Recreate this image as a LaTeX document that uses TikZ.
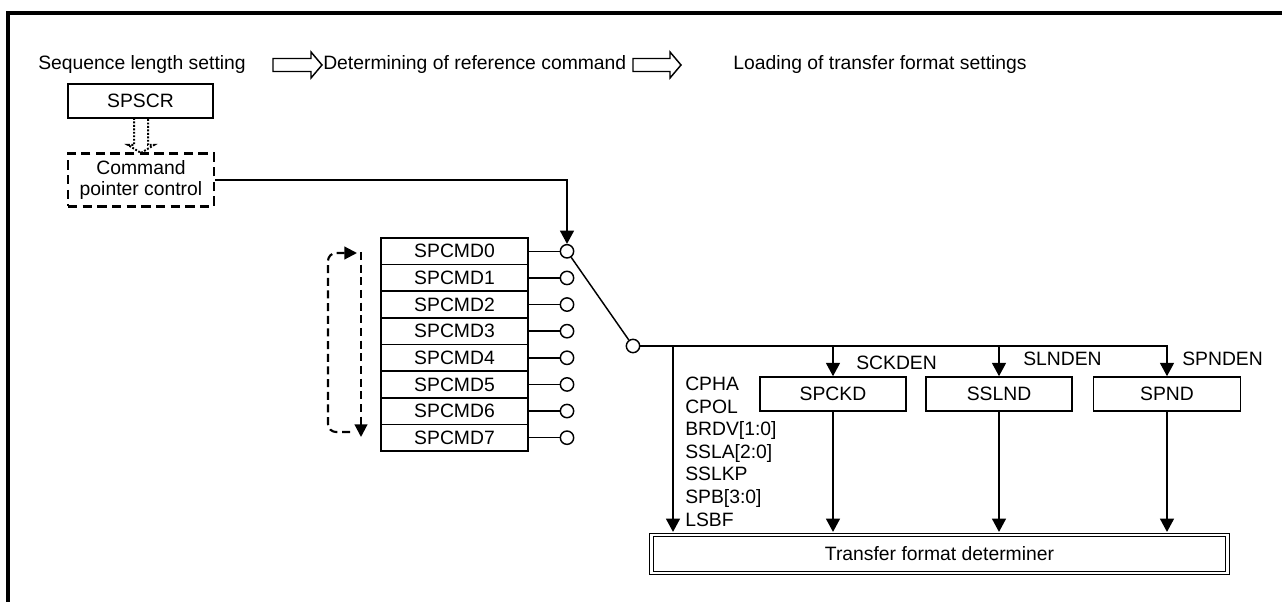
\documentclass[tikz,border=0pt]{standalone}
\usepackage{fontspec}
\setmainfont{Liberation Sans}
\usetikzlibrary{arrows.meta}
\begin{document}
\begin{tikzpicture}[x=0.75pt,y=-0.75pt,
  font=\fontsize{14.5}{15.2}\selectfont,
  tip/.style={-{Triangle[length=10pt,width=10.5pt]}},
  conn/.style={line width=1.1pt},
  arrow/.style={conn,tip},
  box/.style={draw,line width=1.2pt,inner sep=0pt},
  circ/.style={draw,circle,line width=1.1pt,minimum size=10pt,inner sep=0pt,fill=white},
  lbl/.style={inner sep=0pt},
  dashbox/.style={box,line width=1.8pt,dash pattern=on 7pt off 4pt},
  loopline/.style={line width=1.6pt,dash pattern=on 6pt off 3.5pt},
  dotline/.style={line width=1.5pt,dash pattern=on 1.4pt off 1.2pt},
  blockarrow/.style={line width=1.1pt,line join=miter}
]
\useasboundingbox (0,0) rectangle (1282,602);
% frame
\draw[line width=2.3pt,line join=miter] (8,605) -- (8,13) -- (1285,13);

% header
\node[lbl,anchor=base west] (h1) at (38,70) {Sequence length setting};
\node[lbl,anchor=base west] (h2) at (323,70) {Determining of reference command};
\node[lbl,anchor=base west] (h3) at (733,70) {Loading of transfer format settings};
\draw[blockarrow] (273,58.5) -- (311,58.5) -- (311,52) -- (322,65) -- (311,78) -- (311,71.5) -- (273,71.5) -- cycle;
\draw[blockarrow] (633,58.5) -- (670,58.5) -- (670,52) -- (681,65) -- (670,78) -- (670,71.5) -- (633,71.5) -- cycle;

% SPSCR and command pointer control
\node[box,minimum width=108.75pt,minimum height=25.5pt] (spscr) at (140.5,101) {SPSCR};
\node[dashbox,minimum width=109.5pt,minimum height=39.75pt,align=center] (cpc) at (141,180)
  {Command\\pointer control};
\draw[dotline,line join=miter] (134,118) -- (134,145) -- (128,145) -- (141,153) -- (154,145) -- (148,145) -- (148,118);

% command registers
\foreach \i in {0,...,7}{
  \node[box,minimum width=110.25pt,minimum height=19.97pt] (reg\i) at (454.5,{251.31+26.625*\i}) {SPCMD\i};
  \node[circ] (c\i) at (567,{251.31+26.625*\i}) {};
  \draw[conn] (reg\i.east) -- (c\i.west);
}
\draw[arrow] (cpc.east) -| (c0.north);

% loop arrows
\draw[loopline,-{Triangle[length=9.5pt,width=9.5pt]}] (361,252) -- (361,437);
\draw[loopline,rounded corners=6pt,-{Triangle[length=9.5pt,width=9.5pt]}] (350,432) -- (328,432) -- (328,253) -- (357,253);

% switch
\node[circ] (sw) at (633,346) {};
\draw[conn] (c0) -- (sw);

% destination boxes
\node[box,minimum width=109.5pt,minimum height=25.5pt] (spckd) at (833,394) {SPCKD};
\node[box,minimum width=109.5pt,minimum height=25.5pt] (sslnd) at (999,394) {SSLND};
\node[box,minimum width=110pt,minimum height=25.5pt] (spnd) at (1167,394) {SPND};
\node[draw,double,double distance=1.6pt,line width=1pt,minimum width=432pt,minimum height=28.5pt,inner sep=0pt]
  (tfd) at (939.5,554) {Transfer format determiner};

% bus
\coordinate (tap) at (673,346);
\draw[arrow] (sw.east) -| (spnd.north);
\draw[arrow] (sw.east -| spckd.north) -- (spckd.north);
\draw[arrow] (sw.east -| sslnd.north) -- (sslnd.north);
\draw[arrow,shorten >=1.8pt] (tap) -- (tap |- tfd.north);
\draw[arrow,shorten >=1.8pt] (spckd.south) -- (spckd.south |- tfd.north);
\draw[arrow,shorten >=1.8pt] (sslnd.south) -- (sslnd.south |- tfd.north);
\draw[arrow,shorten >=1.8pt] (spnd.south) -- (spnd.south |- tfd.north);

% labels
\node[lbl,anchor=base west] (en1) at (856,369) {SCKDEN};
\node[lbl,anchor=base west] (en2) at (1023,365) {SLNDEN};
\node[lbl,anchor=base west] (en3) at (1182,365) {SPNDEN};
\node[lbl,anchor=base west] (f1) at (685,390) {CPHA};
\node[lbl,anchor=base west] (f2) at (685,413) {CPOL};
\node[lbl,anchor=base west] (f3) at (685,435) {BRDV[1:0]};
\node[lbl,anchor=base west] (f4) at (685,458) {SSLA[2:0]};
\node[lbl,anchor=base west] (f5) at (685,480) {SSLKP};
\node[lbl,anchor=base west] (f6) at (685,503) {SPB[3:0]};
\node[lbl,anchor=base west] (f7) at (685,526) {LSBF};
\end{tikzpicture}
\end{document}
